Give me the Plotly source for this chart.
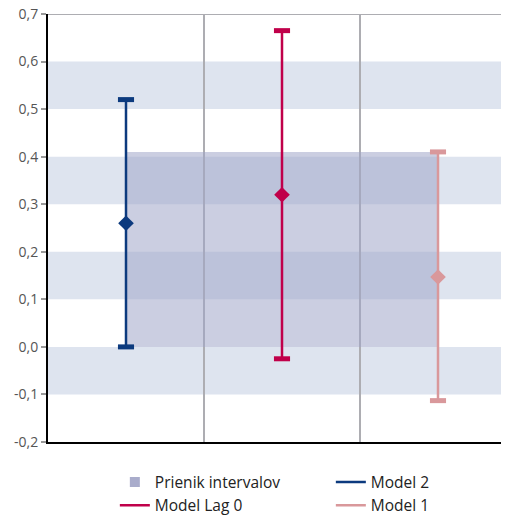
import plotly.graph_objects as go

models = ["Model 2", "Model Lag 0", "Model 1"]
centers = [0.26, 0.32, 0.147]
lowers = [0.0, -0.025, -0.113]
uppers = [0.52, 0.665, 0.41]
colors = ["#0C3A7E", "#C0004A", "#D9989B"]
overlap_name = "Prienik intervalov"
overlap_color = "rgba(160,165,200,0.55)"
legend_square = "#A9ACCB"

ytick_vals = [-0.2, -0.1, 0.0, 0.1, 0.2, 0.3, 0.4, 0.5, 0.6, 0.7]
ytick_text = ["-0,2", "-0,1", "0,0", "0,1", "0,2", "0,3", "0,4", "0,5", "0,6", "0,7"]
bands = [(-0.1, 0.0), (0.1, 0.2), (0.3, 0.4), (0.5, 0.6)]

xs = list(range(len(models)))
ov_lo = max(lowers)
ov_hi = min(uppers)

fig = go.Figure()

# overlap rectangle
fig.add_trace(go.Scatter(
    x=[xs[0], xs[-1], xs[-1], xs[0], xs[0]],
    y=[ov_lo, ov_lo, ov_hi, ov_hi, ov_lo],
    mode="lines", fill="toself", fillcolor=overlap_color,
    line=dict(width=0), hoverinfo="skip", showlegend=False))
fig.add_trace(go.Scatter(
    x=[None], y=[None], mode="markers", name=overlap_name,
    marker=dict(symbol="square", size=10, color=legend_square),
    legendrank=1))

ranks = {"Model 2": 2, "Model Lag 0": 3, "Model 1": 4}
for i, (m, c, lo, hi, col) in enumerate(zip(models, centers, lowers, uppers, colors)):
    fig.add_trace(go.Scatter(
        x=[xs[i], xs[i]], y=[lo, hi], mode="lines", name=m,
        line=dict(color=col, width=2.5), legendrank=ranks[m]))
    fig.add_trace(go.Scatter(
        x=[xs[i], xs[i]], y=[lo, hi], mode="markers", showlegend=False,
        marker=dict(symbol="line-ew", size=11.5, line=dict(color=col, width=5))))
    fig.add_trace(go.Scatter(
        x=[xs[i]], y=[c], mode="markers", showlegend=False,
        marker=dict(symbol="diamond", size=12, color=col)))

for b0, b1 in bands:
    fig.add_shape(type="rect", xref="paper", x0=0, x1=1, y0=b0, y1=b1,
                  fillcolor="#DEE4EF", line=dict(width=0), layer="below")
fig.add_shape(type="line", xref="paper", x0=0, x1=1, y0=0.7, y1=0.7,
              line=dict(color="#ADADB2", width=2), layer="below")

fig.update_layout(
    width=501, height=508,
    margin=dict(l=40, r=0, t=6, b=74, autoexpand=False),
    paper_bgcolor="white", plot_bgcolor="white",
    font=dict(family="Open Sans", size=14, color="#333333"),
    showlegend=True,
    legend=dict(orientation="h", x=0.145, y=-0.055, xanchor="left", yanchor="top",
                entrywidth=171, entrywidthmode="pixels",
                font=dict(size=15.5, color="#222222"), tracegroupgap=0),
)
fig.update_xaxes(range=[-0.5, -0.5 + 461 / 156], tickvals=[0.5, 1.5],
                 showticklabels=False, showgrid=True, gridcolor="#ADADB2", gridwidth=1.5,
                 zeroline=False, showline=True, linecolor="black", linewidth=2, ticks="")
fig.update_yaxes(range=[-0.2, 0.7], tickvals=ytick_vals, ticktext=ytick_text,
                 showgrid=False, zeroline=False, showline=True, linecolor="black",
                 linewidth=2, ticks="outside", ticklen=5, tickwidth=2, tickcolor="#999999",
                 tickfont=dict(size=14, color="#555555"), automargin=False,
                 ticklabeloverflow="allow")

fig.write_html("out.html")
